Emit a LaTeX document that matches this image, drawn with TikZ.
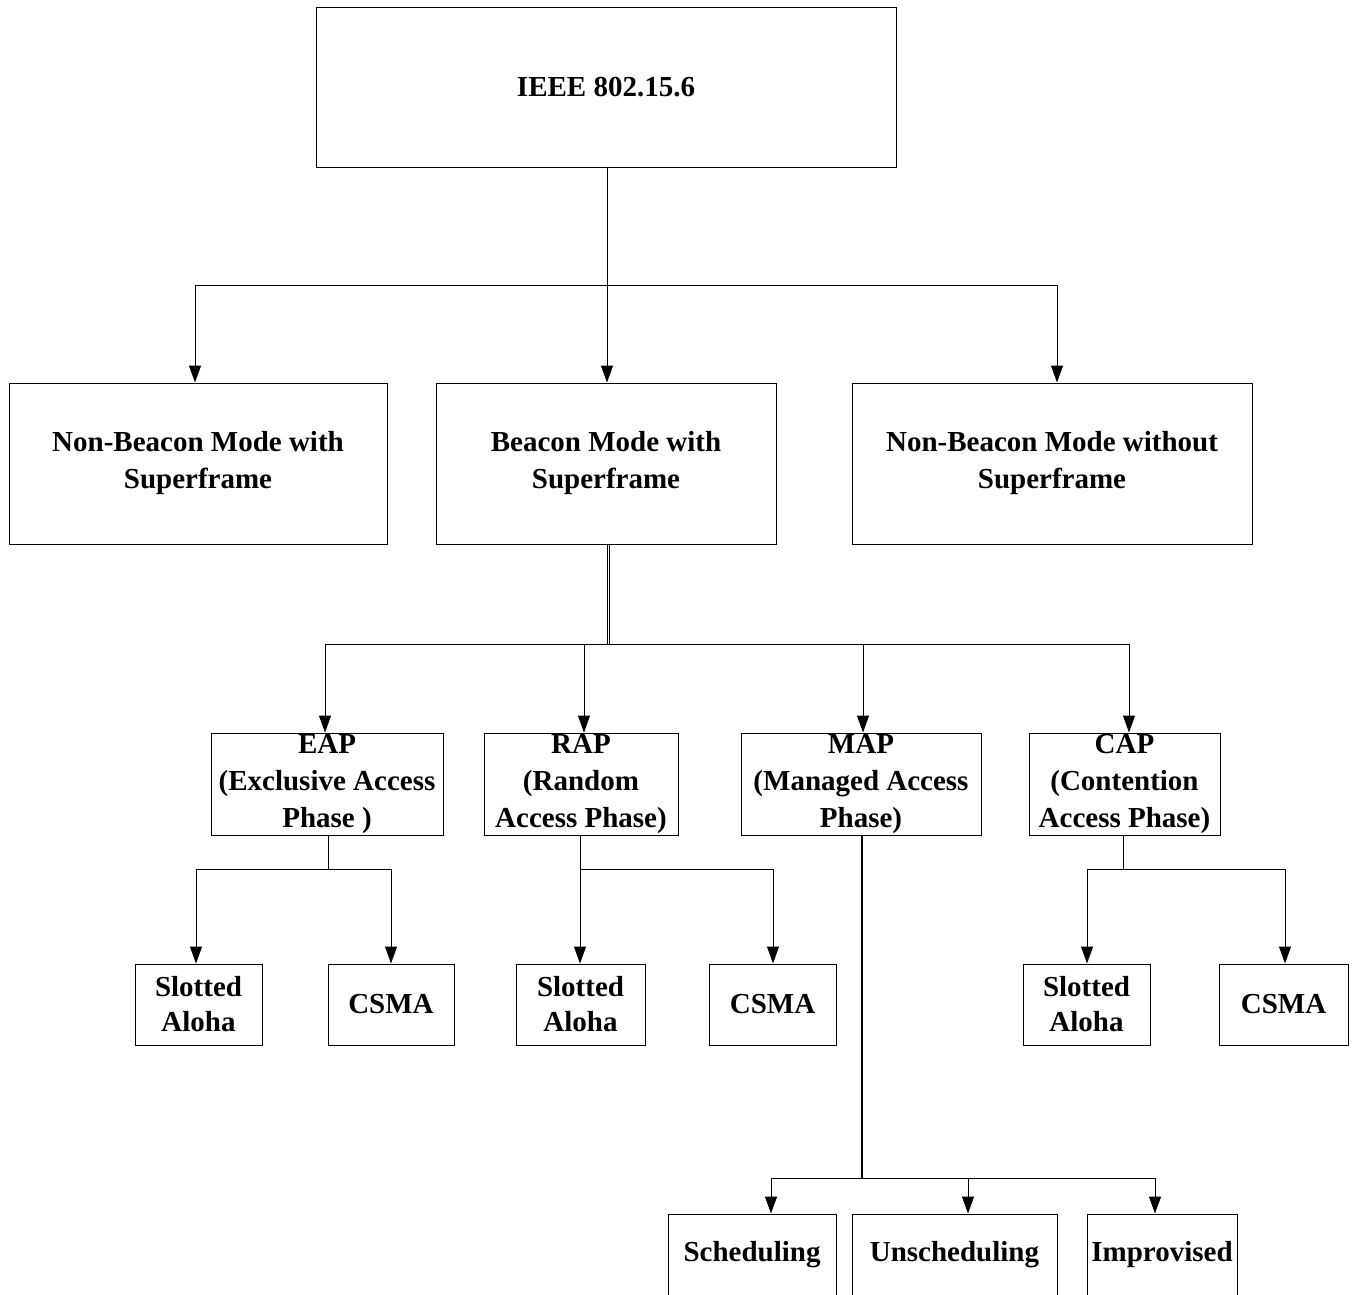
\documentclass[tikz,border=0pt]{standalone}
\usepackage{fontspec}
\setmainfont{Liberation Serif}
\usetikzlibrary{arrows.meta}
\begin{document}
\begin{tikzpicture}[x=1pt,y=-1pt,
  box/.style={draw=black,line width=1pt,inner sep=0pt,align=center,
    font=\bfseries\fontsize{29}{37}\selectfont},
  sbox/.style={box,font=\bfseries\fontsize{29}{35}\selectfont},
  conn/.style={draw=black,line width=1pt},
  arr/.style={conn,-{Triangle[length=17pt,width=12pt]}}]
\useasboundingbox (0,0) rectangle (1352,1294);
\clip (0,0) rectangle (1352,1294);
\fill[white] (0,0) rectangle (1352,1294);
% nodes
\node[box,minimum width=580,minimum height=160] (ieee) at (606,87) {IEEE 802.15.6};
\node[box,minimum width=378,minimum height=161] (nb1) at (198,463.5) {Non-Beacon Mode with\\Superframe};
\node[box,minimum width=340,minimum height=161] (beacon) at (606,463.5) {Beacon Mode with\\Superframe};
\node[box,minimum width=400,minimum height=161] (nb2) at (1052,463.5) {Non-Beacon Mode without\\Superframe};
\node[box,minimum width=232,minimum height=102] (eap) at (327,784) {EAP\\(Exclusive Access\\Phase )};
\node[box,minimum width=194,minimum height=102] (rap) at (581,784) {RAP\\(Random\\Access Phase)};
\node[box,minimum width=240,minimum height=102] (map) at (861,784) {MAP\\(Managed Access\\Phase)};
\node[box,minimum width=191,minimum height=102] (cap) at (1124.5,784) {CAP\\(Contention\\Access Phase)};
\node[sbox,minimum width=127,minimum height=81] (s1) at (198.5,1004.5) {Slotted\\Aloha};
\node[sbox,minimum width=126,minimum height=81] (c1) at (391,1004.5) {CSMA};
\node[sbox,minimum width=129,minimum height=81] (s2) at (580.5,1004.5) {Slotted\\Aloha};
\node[sbox,minimum width=127,minimum height=81] (c2) at (772.5,1004.5) {CSMA};
\node[sbox,minimum width=127,minimum height=81] (s3) at (1086.5,1004.5) {Slotted\\Aloha};
\node[sbox,minimum width=129,minimum height=81] (c3) at (1283.5,1004.5) {CSMA};
\node[box,minimum width=168,minimum height=82] (sch) at (752,1255) {Scheduling};
\node[box,minimum width=205,minimum height=82] (uns) at (954.5,1255) {Unscheduling};
\node[box,minimum width=150,minimum height=82] (imp) at (1162,1255) {Improvised};
% junctions
\coordinate (j1) at (607,285);
\coordinate (j2) at (608,644);
\coordinate (je) at (328,869);
\coordinate (jr) at (580,869);
\coordinate (jc) at (1123,869);
\coordinate (jm) at (862,1178);
% top level
\draw[arr] ([xshift=1pt]ieee.south) -- ([xshift=1pt]beacon.north);
\draw[arr] (j1) -| ([xshift=-3pt]nb1.north);
\draw[arr] (j1) -| ([xshift=5pt]nb2.north);
% beacon to phases (double line)
\draw[conn,line width=0.9pt] ([xshift=1pt]beacon.south) -- ([xshift=-1pt]j2);
\draw[conn,line width=0.9pt] ([xshift=3pt]beacon.south) -- ([xshift=1pt]j2);
\draw[arr] (j2) -| ([xshift=-2pt]eap.north);
\draw[arr] (j2) -| ([xshift=3pt]rap.north);
\draw[arr] (j2) -| ([xshift=2pt]map.north);
\draw[arr] (j2) -| ([xshift=4.5pt]cap.north);
% EAP
\draw[conn] ([xshift=1pt]eap.south) -- (je);
\draw[arr] (je) -| ([xshift=-2.5pt]s1.north);
\draw[arr] (je) -| (c1.north);
% RAP
\draw[conn] ([xshift=-1pt]rap.south) -- (jr);
\draw[arr] (jr) -| ([xshift=-0.5pt]s2.north);
\draw[arr] (jr) -| ([xshift=0.5pt]c2.north);
% CAP
\draw[conn] ([xshift=-1.5pt]cap.south) -- (jc);
\draw[arr] (jc) -| ([xshift=0.5pt]s3.north);
\draw[arr] (jc) -| ([xshift=1.5pt]c3.north);
% MAP
\draw[conn,line width=2pt] ([xshift=1pt]map.south) -- (jm);
\draw[arr] (jm) -| ([xshift=19pt]sch.north);
\draw[arr] (jm) -| ([xshift=13.5pt]uns.north);
\draw[arr] (jm) -| ([xshift=-7pt]imp.north);
\end{tikzpicture}
\end{document}
